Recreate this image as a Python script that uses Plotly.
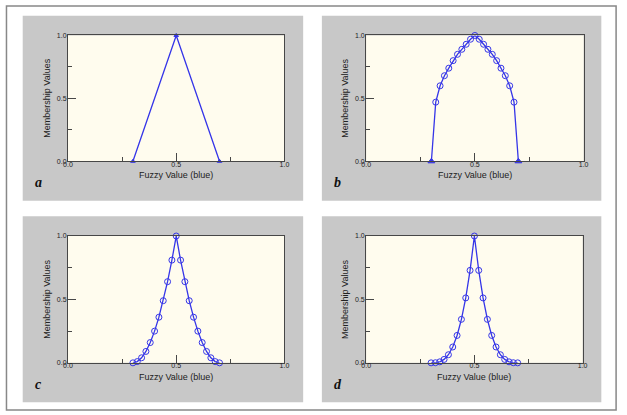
import plotly.graph_objects as go

# ---- data ----
x_tri = [0.3, 0.5, 0.7]
y_tri = [0.0, 1.0, 0.0]

x_pts = [0.30, 0.32, 0.34, 0.36, 0.38, 0.40, 0.42, 0.44, 0.46, 0.48, 0.50,
         0.52, 0.54, 0.56, 0.58, 0.60, 0.62, 0.64, 0.66, 0.68, 0.70]
y_b = [0.0, 0.47, 0.60, 0.68, 0.74, 0.80, 0.85, 0.89, 0.93, 0.97, 1.0,
       0.97, 0.93, 0.89, 0.85, 0.80, 0.74, 0.68, 0.60, 0.47, 0.0]
y_c = [0.0, 0.01, 0.04, 0.09, 0.16, 0.25, 0.36, 0.49, 0.64, 0.81, 1.0,
       0.81, 0.64, 0.49, 0.36, 0.25, 0.16, 0.09, 0.04, 0.01, 0.0]
y_d = [0.0, 0.001, 0.008, 0.027, 0.064, 0.125, 0.216, 0.343, 0.512, 0.729, 1.0,
       0.729, 0.512, 0.343, 0.216, 0.125, 0.064, 0.027, 0.008, 0.001, 0.0]

panel_letters = ["a", "b", "c", "d"]
tick_vals = [0.0, 0.5, 1.0]
tick_text = ["0.0", "0.5", "1.0"]
x_title = "Fuzzy Value (blue)"
y_title = "Membership Values"

# ---- layout geometry (pixels) ----
W, H = 627, 415
plot_boxes = [(64, 284, 32, 160), (367, 588, 32, 160),
              (64, 284, 236, 365), (367, 587, 236, 365)]
panel_boxes = [(18, 303, 12, 200), (322, 606, 12, 200),
               (18, 303, 216, 405), (322, 606, 216, 405)]

def px(x):
    return x / W

def py(y):
    return 1 - y / H

BLUE = "#3535E8"
AX = "#474747"
TXT = "#222222"
GRAY = "#C8C8C8"
CREAM = "#FFFCEE"

fig = go.Figure()

series = [
    (x_tri, y_tri, "triangle-up", 4),
    (x_pts, y_b, ["triangle-up"] + ["circle-open"] * 19 + ["triangle-up"], 6),
    (x_pts, y_c, "circle-open", 6),
    (x_pts, y_d, "circle-open", 6),
]

shapes = []
annotations = []
for i, ((xs, ys, sym, msize), pb, gb, letter) in enumerate(
        zip(series, plot_boxes, panel_boxes, panel_letters)):
    n = "" if i == 0 else str(i + 1)
    fig.add_trace(go.Scatter(
        x=xs, y=ys, mode="lines+markers",
        xaxis="x" + n, yaxis="y" + n,
        line=dict(color=BLUE, width=1.3),
        marker=dict(symbol=sym, size=msize, color=BLUE,
                    line=dict(color=BLUE, width=1)),
        cliponaxis=False, showlegend=False))
    x0, x1, y0, y1 = pb
    g0, g1, h0, h1 = gb
    shapes.append(dict(type="rect", xref="paper", yref="paper",
                       x0=px(g0), x1=px(g1), y0=py(h1), y1=py(h0),
                       fillcolor=GRAY, line=dict(width=0), layer="below"))
    shapes.append(dict(type="rect", xref="paper", yref="paper",
                       x0=px(x0), x1=px(x1), y0=py(y1), y1=py(y0),
                       fillcolor=CREAM, line=dict(width=0), layer="below"))
    common = dict(range=[0, 1], showgrid=False, zeroline=False,
                  showline=True, mirror=True, linecolor=AX, linewidth=1,
                  ticks="inside", ticklen=8, tickcolor=AX, tickwidth=1,
                  tickvals=tick_vals, ticktext=tick_text,
                  tickfont=dict(size=7, color=TXT, family="Liberation Sans"),
                  minor=dict(tickvals=[0.25, 0.75], ticks="inside",
                             ticklen=4, tickcolor=AX, tickwidth=1),
                  fixedrange=True)
    fig.layout["xaxis" + n] = dict(common, domain=[px(x0), px(x1)],
                                   anchor="y" + n, ticklabelstandoff=-4)
    fig.layout["yaxis" + n] = dict(common, domain=[py(y1), py(y0)],
                                   anchor="x" + n, ticklabelstandoff=-1)
    # axis titles
    annotations.append(dict(text=x_title, xref="paper", yref="paper",
                            x=px((x0 + x1) / 2), y=py(y1 + 14),
                            showarrow=False, xanchor="center", yanchor="middle",
                            font=dict(size=9, color=TXT, family="Liberation Sans")))
    annotations.append(dict(text=y_title, xref="paper", yref="paper",
                            x=px(x0 - 21), y=py((y0 + y1) / 2),
                            textangle=-90, showarrow=False,
                            xanchor="center", yanchor="middle",
                            font=dict(size=9, color=TXT, family="Liberation Sans")))
    annotations.append(dict(text="<b><i>" + letter + "</i></b>",
                            xref="paper", yref="paper",
                            x=px(g0 + 16), y=py(y1 + 22),
                            showarrow=False, xanchor="center", yanchor="middle",
                            font=dict(size=14, color="#111111",
                                      family="Liberation Serif")))

# outer border
shapes.append(dict(type="rect", xref="paper", yref="paper",
                   x0=px(1.5), x1=px(621), y0=py(413), y1=py(2),
                   line=dict(color="#888888", width=1.5), layer="below"))

fig.update_layout(
    width=W, height=H,
    margin=dict(l=0, r=0, t=0, b=0),
    paper_bgcolor="white",
    plot_bgcolor="rgba(0,0,0,0)",
    shapes=shapes, annotations=annotations,
)

fig.write_html("out.html", config={"displayModeBar": False},
               post_script="document.body.style.margin='0';"
                           "document.body.style.overflow='hidden';")
